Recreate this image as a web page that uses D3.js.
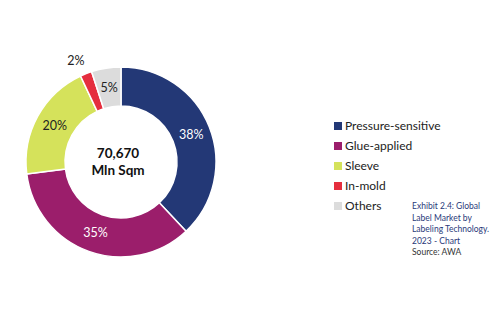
<!DOCTYPE html>
<html><head><meta charset="utf-8">
<script src="https://cdn.jsdelivr.net/npm/d3@7"></script>
<style>html,body{margin:0;padding:0;background:#fff;}svg{display:block;}</style>
</head><body>
<svg id="c" width="500" height="323"></svg>
<script>
const categories = ["Pressure-sensitive","Glue-applied","Sleeve","In-mold","Others"];
const values = [38,35,20,2,5];
const colors = ["#233876","#9b1e6b","#d5e25b","#e52e3e","#dcdcdc"];
const labelColors = ["#fff","#fff","#222","#222","#222"];
const labelOutside = [false,false,false,true,false];
const centerLines = ["70,670","Mln Sqm"];
const noteLines = ["Exhibit 2.4: Global","Label Market by","Labeling Technology.","2023 - Chart","Source: AWA"];

const svg = d3.select("#c");
const font = "Lato, 'Open Sans', sans-serif";
const cx = 121, cy = 162, rOut = 95, rIn = 56;
const data = categories.map((c,i)=>({c, v: values[i], i}));
const pie = d3.pie().value(d=>d.v).sort(null);
const arc = d3.arc().innerRadius(rIn).outerRadius(rOut);
const midArc = d3.arc().innerRadius((rIn+rOut)/2).outerRadius((rIn+rOut)/2);
const outArc = d3.arc().innerRadius(109).outerRadius(109);
const g = svg.append("g").attr("transform",`translate(${cx},${cy})`);
const arcs = pie(data);
g.selectAll("path").data(arcs).join("path")
  .attr("d",arc).attr("fill",d=>colors[d.data.i])
  .attr("stroke","#fff").attr("stroke-width",1.5);
g.selectAll("text.lbl").data(arcs).join("text").attr("class","lbl")
  .attr("transform",d=>`translate(${(labelOutside[d.data.i]?outArc:midArc).centroid(d)})`)
  .attr("dx",d=>labelOutside[d.data.i]?-5:0)
  .attr("text-anchor","middle").attr("dy","0.35em")
  .attr("font-family",font).attr("font-size",12.5)
  .attr("fill",d=>labelOutside[d.data.i]?"#222":labelColors[d.data.i])
  .text(d=>d.data.v+"%");
g.selectAll("text.ctr").data(centerLines).join("text").attr("class","ctr")
  .attr("x",-3).attr("y",(d,i)=>-4+i*17).attr("text-anchor","middle")
  .attr("font-family",font).attr("font-weight","bold").attr("font-size",13.5).attr("fill","#111")
  .text(d=>d);

const leg = svg.append("g").attr("transform","translate(334,126)");
const row = leg.selectAll("g").data(categories).join("g").attr("transform",(d,i)=>`translate(0,${i*20})`);
row.append("rect").attr("x",0).attr("y",-4).attr("width",8).attr("height",8).attr("fill",(d,i)=>colors[i]);
row.append("text").attr("x",11).attr("dy","0.35em").attr("font-family",font).attr("font-size",12).attr("fill","#222").text(d=>d);

svg.append("g").selectAll("text").data(noteLines).join("text")
  .attr("x",412).attr("y",(d,i)=>209+i*11.5)
  .attr("font-family",font).attr("font-size",8.5)
  .attr("fill",(d,i)=>i===noteLines.length-1?"#333":"#2a3a7a")
  .text(d=>d);
</script>
</body></html>
